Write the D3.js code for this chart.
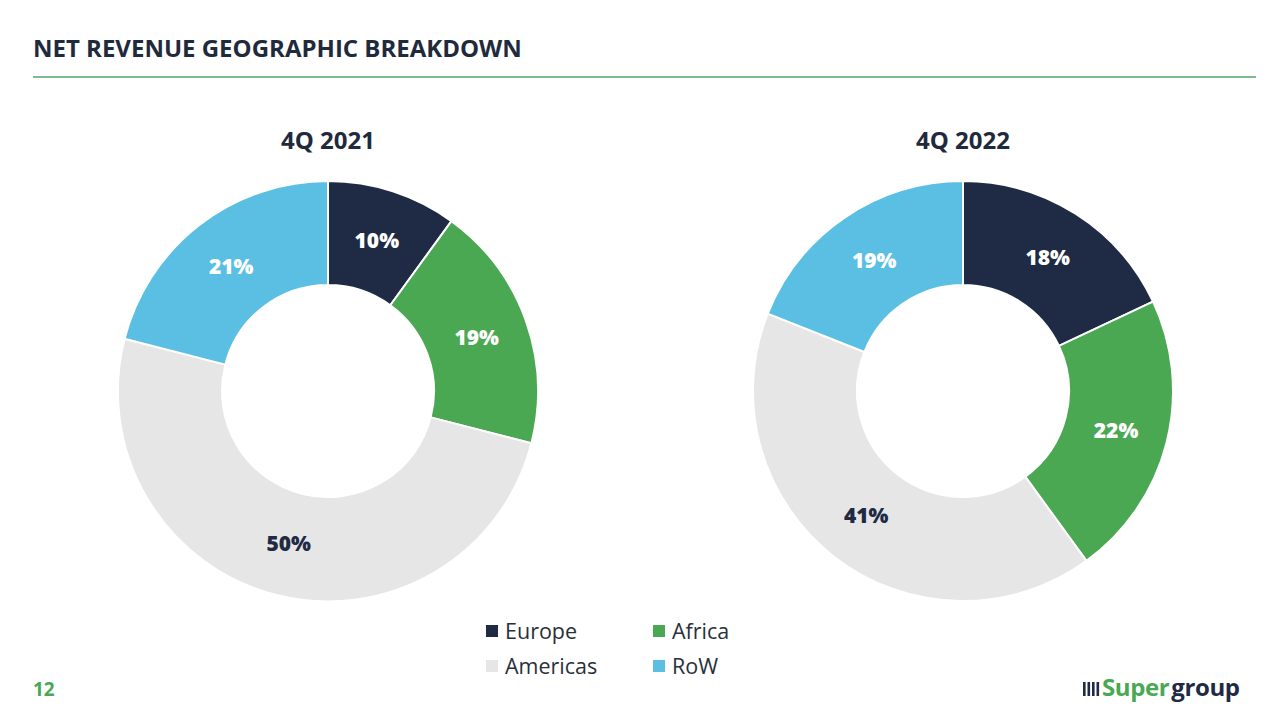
<!DOCTYPE html>
<html>
<head>
<meta charset="utf-8">
<script src="https://cdn.jsdelivr.net/npm/d3@7/dist/d3.min.js"></script>
<style>
  html, body { margin: 0; padding: 0; background: #ffffff; }
  svg { display: block; font-family: "Open Sans", "Noto Sans", sans-serif; }
</style>
</head>
<body>
<svg id="chart" width="1280" height="720"></svg>
<script>
// ---- data ----
const categories = ["Europe", "Africa", "Americas", "RoW"];
const periods = ["4Q 2021", "4Q 2022"];
const values2021 = [10, 19, 50, 21];
const values2022 = [18, 22, 41, 19];
const legendLabels = ["Europe", "Africa", "Americas", "RoW"];

// ---- styling ----
const colors = d3.scaleOrdinal()
  .domain(categories)
  .range(["#1f2a44", "#4aa853", "#e6e6e6", "#5bbfe4"]);
const labelColors = d3.scaleOrdinal()
  .domain(categories)
  .range(["#ffffff", "#ffffff", "#1f2a44", "#ffffff"]);

const svg = d3.select("#chart");

// Title
svg.append("text")
  .attr("x", 33).attr("y", 57)
  .attr("font-size", 24).attr("font-weight", 700)
  .attr("fill", "#1f2a3c")
  .text("NET REVENUE GEOGRAPHIC BREAKDOWN");
svg.append("line")
  .attr("x1", 33).attr("x2", 1256).attr("y1", 77).attr("y2", 77)
  .attr("stroke", "#7dbd8b").attr("stroke-width", 2);

// Donuts
const outerR = 210, innerR = 106;
const centersX = d3.scalePoint().domain(periods).range([328, 963]);
const cy = 391;

const pie = d3.pie().sort(null).value(d => d.value);
const arc = d3.arc().innerRadius(innerR).outerRadius(outerR);

const datasets = [values2021, values2022];
periods.forEach((p, i) => {
  const data = categories.map((c, j) => ({ cat: c, value: datasets[i][j] }));
  const g = svg.append("g").attr("transform", `translate(${centersX(p)},${cy})`);
  g.append("text")
    .attr("x", 0).attr("y", -242)
    .attr("text-anchor", "middle")
    .attr("font-size", 24).attr("font-weight", 700)
    .attr("fill", "#1f2a3c")
    .text(p);
  const arcs = pie(data);
  g.selectAll("path.slice").data(arcs).enter().append("path")
    .attr("class", "slice")
    .attr("d", arc)
    .attr("fill", d => colors(d.data.cat))
    .attr("stroke", "#ffffff").attr("stroke-width", 2);
  g.selectAll("text.lbl").data(arcs).enter().append("text")
    .attr("class", "lbl")
    .attr("transform", d => `translate(${arc.centroid(d)})`)
    .attr("text-anchor", "middle")
    .attr("dy", "0.35em")
    .attr("font-size", 21).attr("font-weight", 800)
    .attr("fill", d => labelColors(d.data.cat))
    .text(d => d.data.value + "%");
});

// Legend
const legendX = d3.scaleOrdinal().domain([0, 1]).range([486, 653]);
const legendY = d3.scaleOrdinal().domain([0, 1]).range([631, 666]);
const lg = svg.append("g");
legendLabels.forEach((l, k) => {
  const col = k % 2, row = Math.floor(k / 2);
  const x = legendX(col), y = legendY(row);
  lg.append("rect")
    .attr("x", x).attr("y", y - 6).attr("width", 12).attr("height", 12)
    .attr("fill", colors(l));
  lg.append("text")
    .attr("x", x + 19).attr("y", y).attr("dy", "0.35em")
    .attr("font-size", 21.5).attr("fill", "#2a2f3a")
    .text(l);
});

// Page number
svg.append("text")
  .attr("x", 33).attr("y", 696)
  .attr("font-size", 19).attr("font-weight", 700)
  .attr("fill", "#4aa853")
  .text("12");

// Logo
const logo = svg.append("g");
[0, 1, 2, 3].forEach(k => {
  logo.append("rect")
    .attr("x", 1083 + k * 4.5).attr("y", 682).attr("width", 2.6).attr("height", 14)
    .attr("fill", "#1f2a44");
});
const lt = logo.append("text")
  .attr("x", 1102).attr("y", 696)
  .attr("font-size", 24).attr("font-weight", 700)
  .attr("letter-spacing", -0.4);
lt.append("tspan").attr("fill", "#4aa853").text("Super");
lt.append("tspan").attr("fill", "#1f2a44").attr("dx", 2).text("group");
</script>
</body>
</html>
